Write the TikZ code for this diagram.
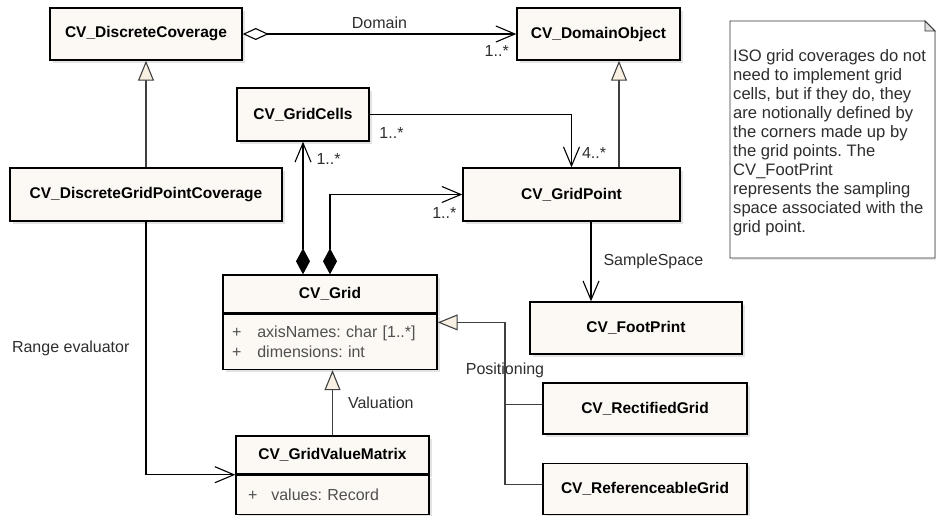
\documentclass[tikz,border=0pt]{standalone}
\usepackage{fontspec}
\setmainfont{Liberation Sans}
\usepackage{tikz}
\usetikzlibrary{arrows.meta,positioning,shadows}
\definecolor{classfill}{RGB}{252,248,243}
\definecolor{trifill}{RGB}{248,240,226}
\definecolor{linegray}{RGB}{64,64,64}
\definecolor{textgray}{RGB}{45,45,45}
\definecolor{attrgray}{RGB}{80,80,80}
\frenchspacing
\newcommand{\namefont}{\fontsize{15.5}{18}\selectfont\bfseries}
\newcommand{\labelfont}{\fontsize{16}{19}\selectfont}
\newcommand{\notefont}{\fontsize{16.6}{19}\selectfont}
\newcommand{\attrfont}{\fontsize{16}{20}\selectfont}
\tikzset{
uml/.style={x=1pt,y=-1pt,line join=miter},
navend/.tip={Straight Barb[length=19pt,width=16pt]},
classbox/.style={rectangle,draw,line width=1.4pt,fill=classfill,font=\namefont,
drop shadow={shadow xshift=2.5pt,shadow yshift=-2.5pt,fill=black!22}},
attrbox/.style={classbox,font=\attrfont,text=attrgray,align=left},
lbl/.style={font=\labelfont,text=textgray,inner sep=1pt},
assoc/.style={draw=black,line width=1.1pt,-navend},
aggr/.style={assoc,{Diamond[length=26pt,width=12pt,fill=white]}-navend},
comp/.style={assoc,{Diamond[length=26pt,width=14pt,fill=black]}-navend},
gen/.style={draw=linegray,line width=1.1pt,-{Triangle[length=20pt,width=16pt,fill=trifill]}},
genline/.style={draw=linegray,line width=1.1pt},
notebox/.style={draw=black!80,line width=0.9pt,fill=white,
drop shadow={shadow xshift=2pt,shadow yshift=-2pt,fill=black!18}},
notetext/.style={font=\notefont,text=textgray,align=left,inner sep=0pt},
}
\begin{document}
\begin{tikzpicture}[uml]
\useasboundingbox (0,0) rectangle (936,515);

\node[classbox,minimum width=192pt,minimum height=52pt] (dcov) at (146,34) {CV\_DiscreteCoverage};
\node[classbox,minimum width=163pt,minimum height=52pt] (dobj) at (598.5,34) {CV\_DomainObject};
\node[classbox,minimum width=132pt,minimum height=53pt] (cells) at (303,114.5) {CV\_GridCells};
\node[classbox,minimum width=272pt,minimum height=53pt] (dgpc) at (146,194.5) {CV\_DiscreteGridPointCoverage};
\node[classbox,minimum width=217pt,minimum height=53pt] (gpt) at (571.5,194.5) {CV\_GridPoint};
\node[classbox,minimum width=214pt,minimum height=38pt] (grid) at (330,294) {CV\_Grid};
\node[attrbox,below=0pt of grid,text width=196pt,inner xsep=9pt,minimum height=55pt] (gridattr)
  {+\hspace{16pt}axisNames: char [1..*]\\+\hspace{16pt}dimensions: int};
\node[classbox,minimum width=212pt,minimum height=52pt] (fp) at (636,328) {CV\_FootPrint};
\node[classbox,minimum width=204pt,minimum height=51pt] (rect) at (645,408.5) {CV\_RectifiedGrid};
\node[classbox,minimum width=204pt,minimum height=51pt,below=28pt of rect] (ref) {CV\_ReferenceableGrid};
\node[classbox,minimum width=193pt,minimum height=38pt] (gvm) at (332.5,455) {CV\_GridValueMatrix};
\node[attrbox,below=0pt of gvm,text width=169pt,inner xsep=12pt,minimum height=39pt] (gvmattr)
  {+\hspace{14pt}values: Record};

% note
\coordinate (notenw) at (730,21);
\coordinate (notene) at (935,21);
\coordinate (notese) at (935,258);
\coordinate (notesw) at (730,258);
\draw[notebox] (notenw) -- ([xshift=-10pt]notene) -- ([yshift=-10pt]notene) -- (notese) -- (notesw) -- cycle;
\draw[draw=black!80,line width=0.9pt,fill=black!12] ([xshift=-10pt]notene) -- ([xshift=-10pt,yshift=-10pt]notene) -- ([yshift=-10pt]notene) -- cycle;
\node[notetext,anchor=north west] (note) at (733,49) {ISO grid coverages do not\\need to implement grid\\cells, but if they do, they\\are notionally defined by\\the corners made up by\\the grid points. The\\CV\_FootPrint\\represents the sampling\\space associated with the\\grid point.};

\path[aggr] (dcov) edge node[lbl,pos=0.5,above=4pt] (ldomain) {Domain}
  node[lbl,pos=1,anchor=north east,xshift=-6pt,yshift=-10pt] (mdomain) {1..*} (dobj);
\path[gen] (dgpc) edge (dcov);
\draw[gen] ([xshift=47.5pt]gpt.north) -- ([xshift=20.5pt]dobj.south);
\draw[assoc] (cells.east) -| node[lbl,pos=0.054,below=11pt] (mcells) {1..*}
  node[lbl,pos=0.861,right=9pt] (mpts) {4..*} (gpt.north);
\draw[comp] (grid.north -| cells.south) -- node[lbl,pos=0.87,right=12pt] (mgcells) {1..*} (cells.south);
\draw[comp] (grid.north) |- node[lbl,pos=0.932,below=11pt] (mgpts) {1..*} (gpt.west);
\draw[assoc] ([xshift=19.5pt]gpt.south) -- node[lbl,pos=0.5,right=11pt] (lsample) {SampleSpace} ([xshift=-45pt]fp.north);
\coordinate (pjoin) at (505,404.5);
\draw[genline] ([yshift=4pt]rect.west) -- (pjoin);
\draw[gen] ([yshift=4pt]ref.west) -| (pjoin) |- node[lbl,pos=0.205] (lpos) {Positioning} ([yshift=19.5pt]gridattr.east);
\draw[gen] (gvm.north) -- node[lbl,pos=0.5,right=14pt] (lval) {Valuation} (gvm.north |- gridattr.south);
\draw[assoc] (dgpc.south) |- node[lbl,pos=0.25,left=15pt] (lrange) {Range evaluator} (gvm.south west);
\end{tikzpicture}
\end{document}
